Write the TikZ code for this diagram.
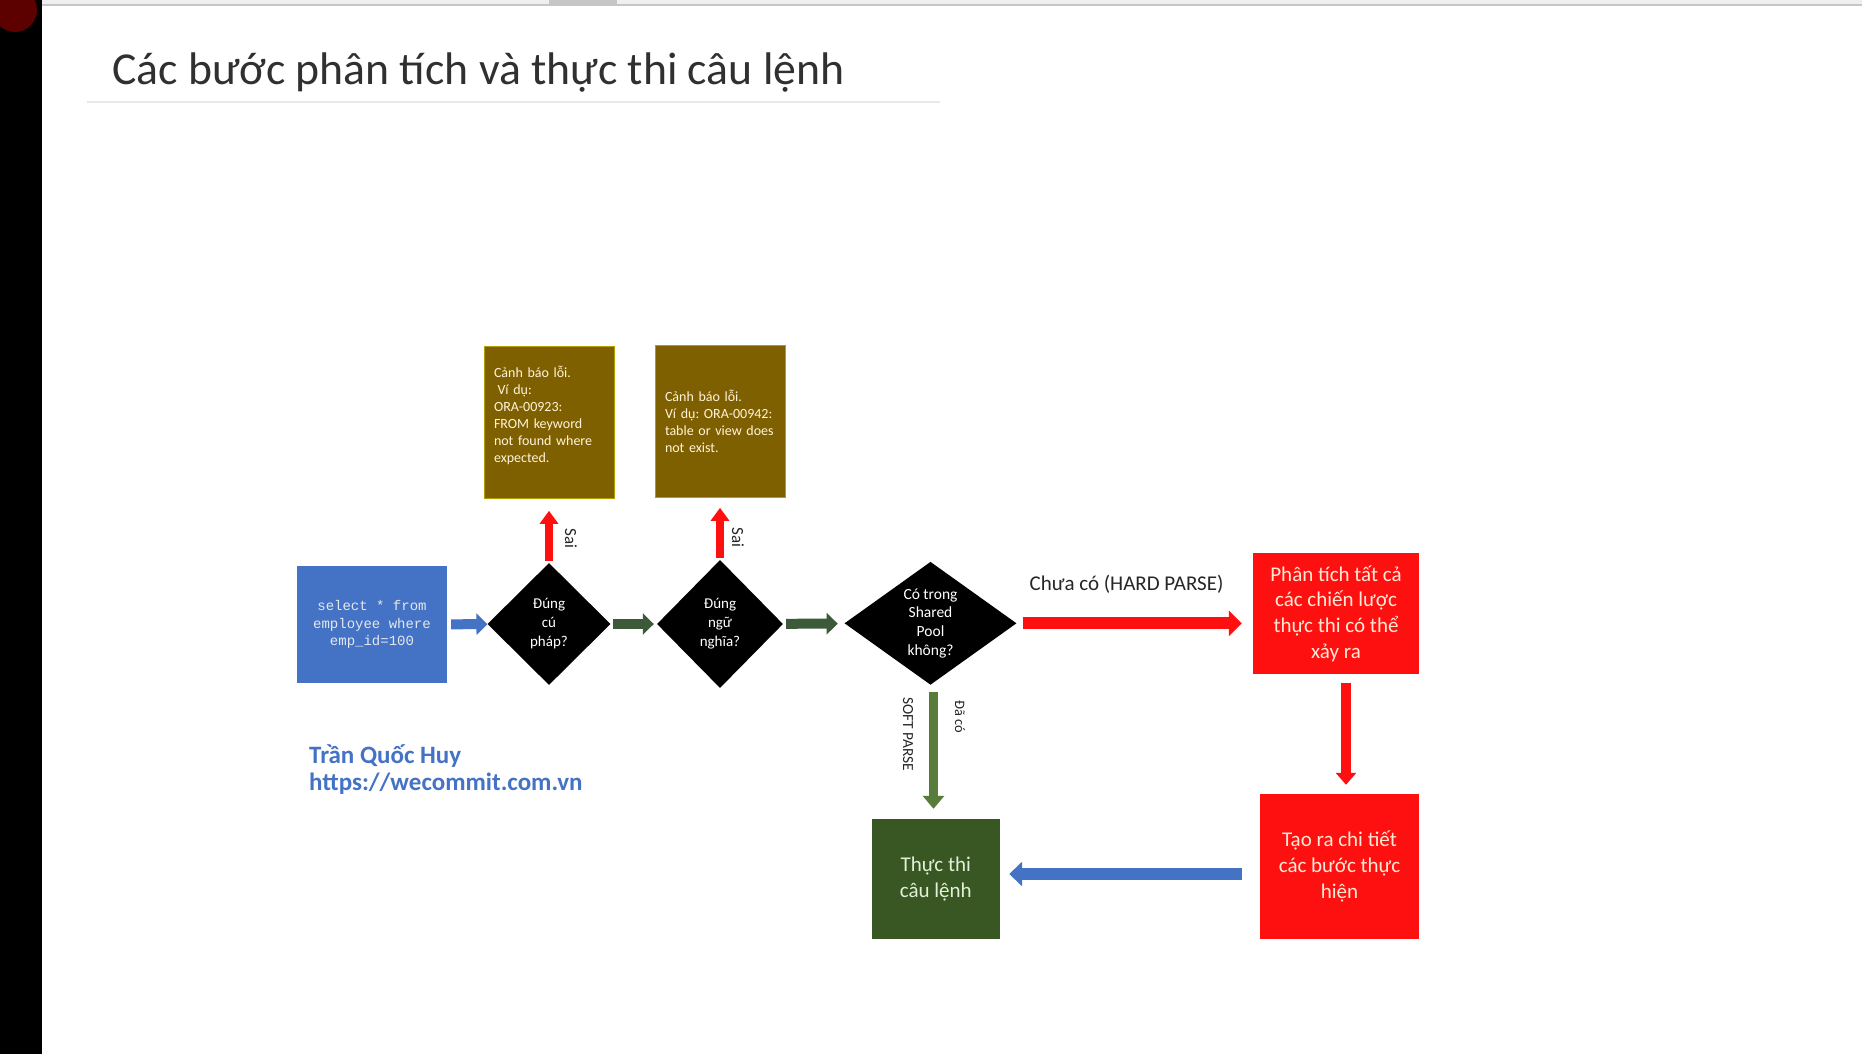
\documentclass[tikz,border=0pt]{standalone}
\usepackage{fontspec}
\setmainfont{Carlito}
\setmonofont{Liberation Mono}
\usepackage{tikz}
\usetikzlibrary{positioning, shapes.geometric, arrows.meta}

\definecolor{codeblue}{HTML}{4472C4}
\definecolor{codetext}{HTML}{E4E8EE}
\definecolor{warnbrown}{HTML}{7F6000}
\definecolor{warntext}{HTML}{FFF4DA}
\definecolor{hardred}{HTML}{FF1010}
\definecolor{hardtext}{HTML}{FFE9D6}
\definecolor{execgreen}{HTML}{385723}
\definecolor{exectext}{HTML}{E2F0D9}
\definecolor{flowgreen}{HTML}{3C5A3A}
\definecolor{softgreen}{HTML}{587C3A}
\definecolor{inkgray}{HTML}{262626}
\definecolor{titlegray}{HTML}{303030}
\definecolor{rulegray}{HTML}{E8E8E8}
\definecolor{slidered}{HTML}{5C0000}
\definecolor{stripgray}{HTML}{EFEFEF}
\definecolor{stripline}{HTML}{C6C6C6}

\tikzset{titletext/.style = {inner sep=0pt, text=titlegray, font=\fontsize{45.7}{55}\selectfont}}
\tikzset{codebox/.style = {fill=codeblue, minimum width=150pt, minimum height=117pt, align=center, text=codetext, font=\ttfamily\fontsize{14}{17.3}\selectfont}}
\tikzset{decision/.style = {diamond, fill=black, inner sep=0pt, align=center, text=white, font=\fontsize{15}{19}\selectfont}}
\tikzset{warnbox/.style = {fill=warnbrown, draw=warnbrown!60!yellow, thin, minimum height=152pt, inner xsep=10pt, text width=110pt, align=left, text=warntext, font=\fontsize{14}{17}\selectfont\frenchspacing}}
\tikzset{hardbox/.style = {fill=hardred, align=center, text=hardtext, font=\fontsize{21}{25.7}\selectfont}}
\tikzset{execbox/.style = {fill=execgreen, minimum width=128.5pt, minimum height=120pt, align=center, text=exectext, font=\fontsize{21}{25.5}\selectfont}}
\tikzset{credit/.style = {inner sep=0pt, text=codeblue, font=\bfseries\fontsize{25}{28}\selectfont}}
\tikzset{inarrow/.style = {draw=codeblue, line width=10pt, -{Triangle[length=11pt, width=21pt]}}}
\tikzset{flowarrow/.style = {draw=flowgreen, line width=10pt, -{Triangle[length=11pt, width=21pt]}}}
\tikzset{failarrow/.style = {draw=hardred, line width=8pt, -{Triangle[length=13pt, width=18pt]}}}
\tikzset{hardarrow/.style = {draw=hardred, line width=12pt, -{Triangle[length=13pt, width=25pt]}}}
\tikzset{redarrow/.style = {draw=hardred, line width=9.5pt, -{Triangle[length=12pt, width=20pt]}}}
\tikzset{backarrow/.style = {draw=codeblue, line width=12pt, -{Triangle[length=13pt, width=24pt]}}}
\tikzset{softarrow/.style = {draw=softgreen, line width=9pt, -{Triangle[length=13pt, width=21pt]}}}
\tikzset{sai/.style = {rotate=-90, anchor=south, inner sep=0pt, outer ysep=#1, text=inkgray, font=\fontsize{17}{20}\selectfont}, sai/.default=14pt}
\tikzset{hardlabel/.style = {above=24pt, inner sep=0pt, text=inkgray, font=\fontsize{21}{25}\selectfont}}
\tikzset{softlabel/.style = {rotate=-90, anchor=north, inner sep=0pt, outer ysep=20.5pt, text=inkgray, font=\fontsize{15.4}{18}\selectfont}}
\tikzset{dacolabel/.style = {rotate=-90, anchor=south, inner sep=0pt, outer ysep=21.5pt, text=inkgray, font=\fontsize{14.4}{17}\selectfont}}

\begin{document}
\begin{tikzpicture}[x=1pt, y=-1pt]
  \useasboundingbox (0,0) rectangle (1862,1054);
  % screen around the slide
  \fill[white] (0,0) rectangle (1862,1054);
  \fill[stripgray] (42,0) rectangle (1862,5);
  \fill[stripline] (549,0) rectangle (617,5);
  \fill[stripline] (42,4.5) rectangle (1862,6.5);
  \fill[black] (0,0) rectangle (42,1054);
  \fill[slidered] (15,10) circle [radius=22pt];

  \node [titletext, anchor=base west] (title) at (112,85) {Các bước phân tích và thực thi câu lệnh};
  \draw [rulegray, line width=1.5pt] (87,102) -- (940,102);

  \node [codebox] (sql) at (372,624.5) {select * from\\employee where\\emp\_id=100};
  \node [decision, minimum width=123pt, minimum height=122pt] (cuphap) at (549,624) {Đúng\\cú\\pháp?};
  \node [decision, minimum width=126pt, minimum height=128pt] (ngunghia) at (720,624) {Đúng\\ngữ\\nghĩa?};
  \node [decision, minimum width=172pt, minimum height=117pt, font=\fontsize{15.5}{18.6}\selectfont] (sharedpool) at (930.5,623.3) {Có trong\\Shared\\Pool\\không?};
  \node [warnbox, above=64pt of cuphap] (loicuphap) {Cảnh báo lỗi.\\\hspace*{0.25em}Ví dụ:\\ORA-00923:\\FROM keyword\\not found where\\expected.\\\mbox{}};
  \node [warnbox, above=62pt of ngunghia] (loingunghia) {Cảnh báo lỗi.\\Ví dụ: ORA-00942:\\table or view does\\not exist.};
  \node [hardbox, minimum width=166pt, minimum height=121pt] (tatca) at (1336,613.5) {Phân tích tất cả\\các chiến lược\\thực thi có thể\\xảy ra};
  \node [hardbox, minimum width=159pt, minimum height=145pt] (chitiet) at (1339.5,866.5) {Tạo ra chi tiết\\các bước thực\\hiện};
  \node [execbox] (thucthi) at (935.75,879) {Thực thi\\câu lệnh};

  \node [credit, anchor=base west] (author) at (309,763) {Trần Quốc Huy};
  \node [credit, anchor=base west] (site) at ([yshift=-27.5pt]author.base west) {https://wecommit.com.vn};

  \draw [inarrow, shorten <=4pt] (sql) -- (cuphap);
  \draw [flowarrow, shorten <=2pt, shorten >=3pt] (cuphap) -- (ngunghia);
  \draw [flowarrow, shorten <=3pt, shorten >=7pt] (ngunghia) -- (sharedpool);
  \draw [failarrow, shorten <=2pt, shorten >=12pt] (cuphap) -- node [sai=16pt, pos=.375] {Sai} (loicuphap);
  \draw [failarrow, shorten <=2pt, shorten >=10pt] (ngunghia) -- node [sai=12pt, pos=.355] {Sai} (loingunghia);
  \draw [hardarrow, shorten <=6pt, shorten >=11pt] (sharedpool) -- node [hardlabel, pos=.465] {Chưa có (HARD PARSE)} (sharedpool -| tatca.west);
  \draw [redarrow, shorten <=9pt, shorten >=9pt] ([xshift=10pt]tatca.south) -- ([xshift=6.5pt]chitiet.north);
  \draw [backarrow, shorten <=18pt, shorten >=9pt] ([yshift=-7.5pt]chitiet.west) -- ([yshift=5pt]thucthi.east);
  \draw [softarrow, shorten <=7pt, shorten >=10pt] ([xshift=3pt]sharedpool.south) -- node [softlabel, pos=.37] {SOFT PARSE} node [dacolabel, pos=.24] {Đã có} ([xshift=-2.25pt]thucthi.north);
\end{tikzpicture}
\end{document}
